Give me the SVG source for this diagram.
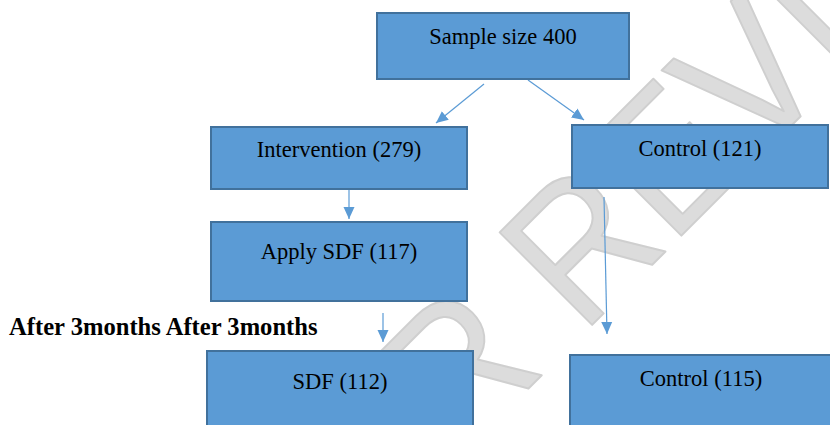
<svg xmlns="http://www.w3.org/2000/svg" width="830" height="425" viewBox="0 0 830 425">
<style>
.box{fill:#5b9bd5;stroke:#41719c;stroke-width:2}
.lbl{font-family:"Liberation Serif","Times New Roman",serif;font-size:22.5px;fill:#000;text-anchor:middle}
.note{font-family:"Liberation Serif","Times New Roman",serif;font-size:24.6px;font-weight:bold;fill:#000}
.wm{font-family:"Liberation Sans",Arial,sans-serif;font-size:190px;fill:#dcdcdc;stroke:#cfcfcf;stroke-width:2;stroke-linejoin:round}
.conn{stroke:#5b9bd5;stroke-width:1.2;fill:none;marker-end:url(#ah)}
</style>
<defs>
<marker id="ah" markerUnits="userSpaceOnUse" markerWidth="12" markerHeight="12" refX="12" refY="6" orient="auto">
<path d="M0,0.5 L12,6 L0,11.5 z" fill="#5b9bd5"/>
</marker>
</defs>
<rect width="830" height="425" fill="#fff"/>
<g id="watermark">
<text class="wm" transform="translate(211,706) rotate(-45) scale(0.92,1)">PEER REVIEW</text>
</g>
<g id="connectors">
<line class="conn" x1="484" y1="84" x2="436" y2="123"/>
<line class="conn" x1="528" y1="80" x2="584" y2="120"/>
<line class="conn" x1="349" y1="189" x2="349" y2="219"/>
<line class="conn" x1="383" y1="313" x2="383" y2="342"/>
<line class="conn" x1="604" y1="197" x2="607" y2="334"/>
</g>
<g id="sample">
<rect class="box" x="377" y="13" width="252" height="66"/>
<text class="lbl" x="503" y="44">Sample size 400</text>
</g>
<g id="intervention">
<rect class="box" x="211" y="127" width="256" height="62"/>
<text class="lbl" x="339" y="157">Intervention (279)</text>
</g>
<g id="control121">
<rect class="box" x="572" y="125" width="256" height="63"/>
<text class="lbl" x="700" y="156">Control (121)</text>
</g>
<g id="applysdf">
<rect class="box" x="211" y="222" width="256" height="79"/>
<text class="lbl" x="339" y="259">Apply SDF (117)</text>
</g>
<g id="after">
<text class="note" x="9" y="335">After 3months After 3months</text>
</g>
<g id="sdf112">
<rect class="box" x="207" y="351" width="266" height="90"/>
<text class="lbl" x="340" y="389">SDF (112)</text>
</g>
<g id="control115">
<rect class="box" x="570" y="355" width="270" height="90"/>
<text class="lbl" x="701" y="386">Control (115)</text>
</g>
</svg>
